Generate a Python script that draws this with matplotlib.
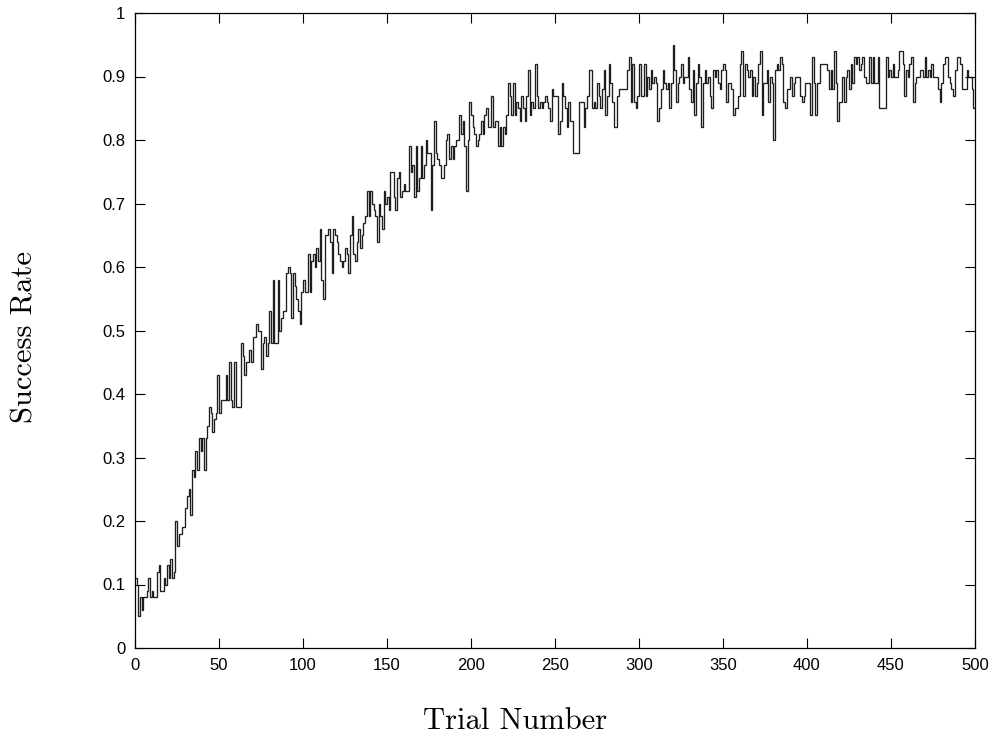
import numpy as np
import matplotlib
matplotlib.use("Agg")
import matplotlib.pyplot as plt

# Success rate per trial (trials 0..499)
rate_000_057 = [0.11, 0.10, 0.05, 0.08, 0.06, 0.08, 0.08, 0.09, 0.11, 0.08,
                0.09, 0.08, 0.08, 0.12, 0.13, 0.09, 0.09, 0.11, 0.10, 0.13,
                0.11, 0.14, 0.11, 0.12, 0.20, 0.16, 0.18, 0.18, 0.19, 0.19,
                0.22, 0.24, 0.25, 0.21, 0.28, 0.27, 0.31, 0.28, 0.33, 0.31,
                0.33, 0.28, 0.33, 0.35, 0.38, 0.37, 0.34, 0.36, 0.37, 0.43,
                0.37, 0.39, 0.39, 0.39, 0.43, 0.39, 0.45, 0.39]
rate_058_122 = [0.38, 0.45, 0.38, 0.38, 0.38, 0.48, 0.46, 0.43, 0.45, 0.45,
                0.47, 0.45, 0.49, 0.49, 0.51, 0.50, 0.50, 0.44, 0.48, 0.49,
                0.46, 0.48, 0.53, 0.48, 0.58, 0.48, 0.48, 0.58, 0.50, 0.52,
                0.53, 0.53, 0.59, 0.60, 0.59, 0.52, 0.59, 0.57, 0.55, 0.53,
                0.51, 0.56, 0.58, 0.56, 0.56, 0.62, 0.56, 0.61, 0.62, 0.60,
                0.63, 0.61, 0.66, 0.58, 0.55, 0.65, 0.65, 0.66, 0.64, 0.59,
                0.66, 0.65, 0.64, 0.62, 0.61]
rate_123_182 = [0.60, 0.61, 0.63, 0.62, 0.59, 0.65, 0.68, 0.62, 0.61, 0.64,
                0.66, 0.63, 0.65, 0.67, 0.68, 0.72, 0.68, 0.72, 0.70, 0.69,
                0.68, 0.64, 0.70, 0.68, 0.66, 0.72, 0.70, 0.71, 0.69, 0.75,
                0.75, 0.71, 0.69, 0.74, 0.75, 0.71, 0.72, 0.73, 0.72, 0.72,
                0.79, 0.75, 0.76, 0.71, 0.79, 0.72, 0.74, 0.79, 0.74, 0.76,
                0.80, 0.78, 0.78, 0.69, 0.76, 0.83, 0.78, 0.77, 0.76, 0.74]
rate_183_239 = [0.74, 0.76, 0.80, 0.81, 0.77, 0.79, 0.77, 0.79, 0.80, 0.80,
                0.84, 0.81, 0.83, 0.79, 0.72, 0.80, 0.86, 0.84, 0.82, 0.81,
                0.79, 0.80, 0.81, 0.83, 0.81, 0.84, 0.85, 0.82, 0.82, 0.87,
                0.82, 0.83, 0.83, 0.79, 0.82, 0.79, 0.82, 0.81, 0.84, 0.89,
                0.87, 0.84, 0.89, 0.84, 0.86, 0.85, 0.83, 0.87, 0.85, 0.83,
                0.87, 0.91, 0.84, 0.86, 0.85, 0.92, 0.87]
rate_240_298 = [0.85, 0.86, 0.85, 0.86, 0.87, 0.86, 0.85, 0.83, 0.88, 0.87,
                0.87, 0.87, 0.81, 0.83, 0.89, 0.87, 0.85, 0.82, 0.86, 0.83,
                0.83, 0.78, 0.78, 0.78, 0.86, 0.86, 0.86, 0.82, 0.85, 0.87,
                0.91, 0.91, 0.85, 0.86, 0.85, 0.89, 0.87, 0.85, 0.88, 0.91,
                0.84, 0.87, 0.92, 0.89, 0.86, 0.82, 0.82, 0.87, 0.88, 0.88,
                0.88, 0.88, 0.88, 0.91, 0.93, 0.86, 0.92, 0.86, 0.85]
rate_299_362 = [0.87, 0.92, 0.87, 0.87, 0.92, 0.87, 0.90, 0.88, 0.91, 0.89,
                0.90, 0.89, 0.83, 0.85, 0.88, 0.91, 0.89, 0.88, 0.89, 0.85,
                0.89, 0.95, 0.91, 0.86, 0.89, 0.90, 0.92, 0.89, 0.90, 0.90,
                0.93, 0.88, 0.86, 0.91, 0.84, 0.89, 0.92, 0.90, 0.82, 0.89,
                0.91, 0.89, 0.90, 0.87, 0.85, 0.91, 0.90, 0.91, 0.89, 0.88,
                0.91, 0.92, 0.91, 0.86, 0.89, 0.89, 0.88, 0.84, 0.85, 0.85,
                0.87, 0.92, 0.94, 0.87]
rate_363_418 = [0.92, 0.91, 0.90, 0.91, 0.87, 0.90, 0.87, 0.89, 0.92, 0.94,
                0.84, 0.89, 0.89, 0.91, 0.86, 0.90, 0.89, 0.80, 0.91, 0.92,
                0.91, 0.93, 0.92, 0.86, 0.85, 0.88, 0.88, 0.90, 0.87, 0.89,
                0.90, 0.90, 0.90, 0.87, 0.86, 0.87, 0.89, 0.89, 0.89, 0.84,
                0.93, 0.89, 0.84, 0.89, 0.89, 0.92, 0.92, 0.92, 0.92, 0.91,
                0.88, 0.91, 0.88, 0.94, 0.89, 0.83]
rate_419_481 = [0.86, 0.86, 0.90, 0.86, 0.90, 0.91, 0.88, 0.92, 0.89, 0.93,
                0.92, 0.93, 0.91, 0.92, 0.93, 0.90, 0.89, 0.89, 0.93, 0.89,
                0.93, 0.89, 0.89, 0.93, 0.85, 0.85, 0.85, 0.85, 0.93, 0.90,
                0.91, 0.90, 0.92, 0.90, 0.90, 0.91, 0.94, 0.94, 0.92, 0.87,
                0.91, 0.90, 0.92, 0.93, 0.86, 0.89, 0.90, 0.90, 0.91, 0.91,
                0.90, 0.93, 0.90, 0.91, 0.90, 0.92, 0.90, 0.90, 0.90, 0.88,
                0.86, 0.89, 0.92]
rate_482_499 = [0.93, 0.93, 0.90, 0.89, 0.88, 0.87, 0.91, 0.93, 0.93, 0.92,
                0.88, 0.88, 0.88, 0.91, 0.90, 0.90, 0.88, 0.85]

success_rate = (rate_000_057 + rate_058_122 + rate_123_182 + rate_183_239 +
                rate_240_298 + rate_299_362 + rate_363_418 + rate_419_481 +
                rate_482_499)
trial_edges = np.arange(len(success_rate) + 1)

x_ticks = [0, 50, 100, 150, 200, 250, 300, 350, 400, 450, 500]
y_ticks = [0, 0.1, 0.2, 0.3, 0.4, 0.5, 0.6, 0.7, 0.8, 0.9, 1]
y_tick_labels = ["0", "0.1", "0.2", "0.3", "0.4", "0.5", "0.6", "0.7", "0.8", "0.9", "1"]

W, H = 993, 740
fig = plt.figure(figsize=(W / 100, H / 100), dpi=100)
ax = fig.add_axes([135 / W, 1 - 648 / H, (975 - 135) / W, (648 - 13) / H])

ax.stairs(success_rate, trial_edges, baseline=None, color="#1e1e1e", linewidth=0.95)

ax.set_xlim(0, 500)
ax.set_ylim(0, 1)
ax.set_xticks(x_ticks)
ax.set_xticklabels([str(t) for t in x_ticks])
ax.set_yticks(y_ticks)
ax.set_yticklabels(y_tick_labels)
ax.tick_params(direction="in", length=7, width=0.8, top=True, right=True,
               labelsize=12, pad=7)
for lab in ax.get_xticklabels() + ax.get_yticklabels():
    lab.set_fontfamily("Liberation Sans")
for sp in ax.spines.values():
    sp.set_linewidth(0.9)

fig.text(515 / W, 1 - 721 / H, "Trial Number", ha="center", va="center",
         fontsize=22, family="cmr10")
fig.text(25 / W, 1 - 337 / H, "Success Rate", ha="center", va="center",
         fontsize=22, family="cmr10", rotation=90)

fig.savefig("out.png", dpi=100)
